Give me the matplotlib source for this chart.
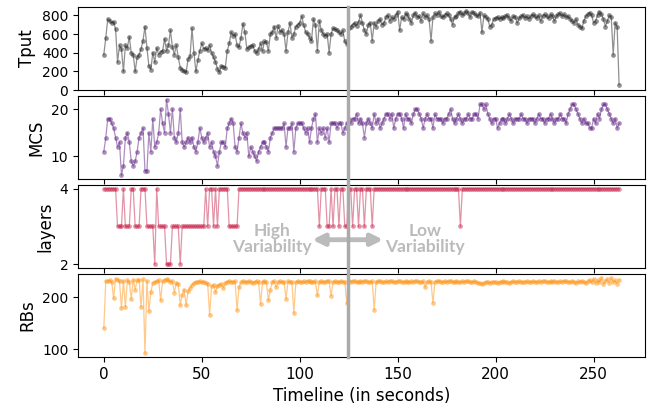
import numpy as np
import matplotlib
matplotlib.use('agg')
import matplotlib.pyplot as plt
from matplotlib.lines import Line2D
from matplotlib.transforms import blended_transform_factory

# one sample per second, 0 .. 263 s
tput = [380, 560, 760, 740, 720, 730, 650, 300, 480, 440,
        200, 480, 450, 570, 400, 380, 200, 350, 380, 440,
        530, 680, 450, 260, 220, 400, 300, 450, 380, 410,
        420, 550, 420, 480, 640, 460, 380, 480, 350, 240,
        220, 200, 190, 330, 360, 660, 400, 200, 320, 420,
        500, 440, 450, 430, 480, 400, 350, 300, 230, 190,
        260, 250, 240, 420, 500, 620, 580, 600, 480, 460,
        560, 710, 620, 440, 460, 470, 480, 420, 400, 440,
        500, 420, 520, 510, 420, 600, 620, 680, 560, 690,
        620, 640, 600, 420, 620, 720, 560, 600, 680, 700,
        720, 790, 700, 620, 600, 560, 530, 760, 700, 420,
        740, 640, 600, 580, 600, 400, 600, 660, 650, 640,
        620, 600, 640, 520, 490, 660, 680, 700, 720, 690,
        730, 800, 720, 640, 600, 700, 720, 530, 720, 680,
        740, 760, 700, 720, 780, 800, 740, 780, 760, 800,
        840, 640, 780, 760, 820, 800, 760, 720, 800, 830,
        780, 790, 740, 820, 780, 800, 760, 530, 780, 820,
        800, 840, 790, 780, 800, 820, 800, 760, 700, 780,
        790, 820, 840, 800, 820, 850, 820, 780, 840, 820,
        800, 790, 830, 620, 800, 780, 760, 680, 700, 760,
        770, 780, 760, 780, 770, 790, 800, 770, 740, 790,
        780, 720, 770, 790, 800, 770, 790, 760, 790, 810,
        790, 770, 800, 740, 790, 810, 790, 770, 810, 790,
        740, 790, 810, 820, 790, 810, 780, 790, 760, 740,
        720, 760, 700, 680, 660, 740, 790, 810, 830, 800,
        720, 740, 800, 840, 810, 760, 680, 740, 800, 780,
        380, 720, 680, 60]

mcs = [11, 14, 18, 18, 17, 16, 14, 12, 13, 6,
       8, 14, 15, 13, 9, 8, 9, 11, 14, 15,
       16, 7, 7, 15, 11, 18, 12, 13, 15, 20,
       17, 15, 22, 19, 15, 20, 14, 13, 15, 20,
       13, 12, 13, 14, 13, 14, 12, 11, 13, 16,
       14, 13, 14, 15, 12, 13, 11, 10, 8, 11,
       13, 13, 12, 16, 17, 18, 17, 12, 11, 14,
       17, 15, 14, 15, 10, 12, 11, 10, 9, 11,
       12, 13, 13, 12, 11, 14, 15, 16, 16, 16,
       16, 16, 17, 12, 16, 16, 17, 11, 16, 17,
       17, 17, 16, 15, 16, 13, 16, 18, 19, 13,
       16, 15, 16, 14, 16, 13, 17, 17, 17, 16,
       17, 17, 15, 16, 17, 18, 17, 18, 18, 19,
       17, 18, 17, 14, 17, 18, 17, 16, 19, 17,
       18, 16, 17, 18, 19, 19, 18, 19, 16, 18,
       19, 19, 18, 16, 19, 18, 18, 17, 19, 20,
       20, 19, 18, 16, 18, 19, 18, 18, 16, 19,
       18, 18, 18, 17, 18, 18, 19, 20, 18, 17,
       18, 19, 18, 17, 18, 18, 19, 18, 18, 19,
       19, 18, 21, 21, 20, 21, 19, 18, 17, 18,
       18, 16, 17, 18, 18, 17, 18, 19, 18, 17,
       18, 18, 18, 19, 18, 18, 17, 18, 18, 18,
       17, 18, 19, 18, 18, 17, 18, 18, 19, 18,
       17, 18, 18, 19, 18, 18, 17, 19, 20, 21,
       21, 20, 19, 18, 17, 18, 17, 17, 16, 16,
       18, 17, 19, 18, 20, 21, 21, 20, 19, 18,
       17, 18, 16, 17]

layers = [4, 4, 4, 4, 4, 4, 4, 3, 3, 3,
          4, 3, 3, 3, 4, 4, 3, 3, 3, 4,
          4, 4, 3, 3, 3, 3, 2, 4, 3, 3,
          3, 3, 2, 2, 2, 3, 3, 3, 3, 2,
          3, 3, 3, 3, 3, 3, 3, 3, 3, 3,
          3, 3, 4, 3, 4, 4, 3, 4, 3, 4,
          4, 4, 4, 4, 3, 3, 3, 3, 3, 4,
          4, 4, 4, 4, 4, 4, 4, 4, 4, 4,
          4, 4, 4, 4, 4, 4, 4, 4, 4, 4,
          4, 4, 4, 4, 4, 4, 4, 4, 4, 4,
          4, 4, 4, 4, 4, 4, 4, 4, 4, 4,
          3, 4, 4, 4, 3, 3, 4, 3, 4, 4,
          3, 4, 4, 3, 3, 4, 4, 3, 4, 4,
          3, 4, 4, 3, 4, 4, 4, 3, 4, 4,
          4, 4, 4, 4, 4, 4, 4, 4, 4, 4,
          4, 4, 4, 4, 4, 4, 4, 4, 4, 4,
          4, 4, 4, 4, 4, 4, 4, 4, 4, 4,
          4, 4, 4, 4, 4, 4, 4, 4, 4, 4,
          4, 4, 3, 4, 4, 4, 4, 4, 4, 4,
          4, 4, 4, 4, 4, 4, 4, 4, 4, 4,
          4, 4, 4, 4, 4, 4, 4, 4, 4, 4,
          4, 4, 4, 4, 4, 4, 4, 4, 4, 4,
          4, 4, 4, 4, 4, 4, 4, 4, 4, 4,
          4, 4, 4, 4, 4, 4, 4, 4, 4, 4,
          4, 4, 4, 4, 4, 4, 4, 4, 4, 4,
          4, 4, 4, 4, 4, 4, 4, 4, 4, 4,
          4, 4, 4, 4]

rbs = [141, 232, 231, 233, 230, 198, 236, 234, 231, 179,
       232, 181, 233, 230, 197, 234, 215, 233, 234, 181,
       235, 92, 232, 173, 210, 228, 230, 231, 233, 194,
       232, 234, 235, 233, 230, 231, 209, 228, 226, 185,
       205, 215, 185, 212, 218, 224, 228, 229, 230, 231,
       229, 230, 228, 226, 166, 222, 224, 210, 222, 224,
       226, 218, 228, 230, 231, 230, 229, 231, 175, 220,
       229, 231, 230, 229, 231, 230, 228, 230, 231, 229,
       187, 230, 231, 229, 194, 215, 230, 231, 220, 230,
       231, 229, 230, 197, 231, 230, 229, 170, 230, 231,
       230, 229, 231, 230, 232, 231, 229, 230, 231, 204,
       230, 231, 229, 230, 232, 231, 203, 230, 231, 230,
       229, 231, 230, 230, 189, 231, 230, 232, 231, 230,
       229, 231, 230, 232, 231, 230, 229, 231, 176, 230,
       231, 232, 230, 229, 231, 230, 232, 231, 229, 230,
       231, 232, 230, 229, 231, 230, 229, 231, 230, 232,
       231, 230, 229, 231, 220, 230, 231, 229, 189, 230,
       231, 232, 230, 229, 231, 230, 231, 232, 230, 229,
       231, 230, 229, 231, 230, 232, 231, 230, 229, 231,
       230, 228, 227, 225, 228, 229, 230, 228, 229, 230,
       229, 228, 230, 229, 231, 230, 229, 228, 230, 231,
       229, 230, 231, 230, 229, 230, 231, 230, 229, 231,
       230, 229, 231, 230, 231, 232, 230, 229, 231, 230,
       231, 230, 229, 231, 230, 232, 231, 230, 229, 231,
       230, 228, 231, 229, 232, 230, 228, 231, 234, 229,
       236, 227, 233, 230, 238, 226, 232, 235, 228, 237,
       229, 233, 226, 234]

t = np.arange(len(tput))

series = [tput, mcs, layers, rbs]
labels = ['Tput', 'MCS', 'layers', 'RBs']
colors = ['#222222', '#5c1f80', '#c8284f', '#ff9416']
change_at = 124.5

fig, axes = plt.subplots(4, 1, sharex=True, figsize=(6.56, 4.09), dpi=100)
fig.subplots_adjust(left=0.119, right=0.983, top=0.983, bottom=0.127, hspace=0.07)

for ax, y, lab, c in zip(axes, series, labels, colors):
    ax.plot(t, y, '-o', color=c, alpha=0.5, lw=0.9, ms=3.4, mew=0)
    ax.set_ylabel(lab, fontsize=12)
    ax.tick_params(axis='y', labelsize=10)

axes[0].set_ylim(bottom=0)
axes[0].set_yticks([0, 200, 400, 600, 800])
axes[1].set_yticks([10, 20])
axes[2].set_yticks([2, 4])
axes[3].set_yticks([100, 200])
axes[3].tick_params(axis='x', labelsize=11)
axes[3].set_xlabel('Timeline (in seconds)', fontsize=12)

# switch point line spanning all panels
trans = blended_transform_factory(axes[3].transData, fig.transFigure)
fig.add_artist(Line2D([change_at, change_at], [0.127, 0.983], transform=trans,
                      color='#aaaaaa', lw=2.5))

ax = axes[2]
ax.annotate('', xy=(105, 2.65), xytext=(144, 2.65),
            arrowprops=dict(arrowstyle='<|-|>', color='#bbbbbb', lw=3.5, mutation_scale=17))
ax.text(86, 2.68, 'High\nVariability', ha='center', va='center', fontsize=12.5,
        fontweight='bold', color='#bbbbbb', family='Lato', linespacing=1.0)
ax.text(164, 2.68, 'Low\nVariability', ha='center', va='center', fontsize=12.5,
        fontweight='bold', color='#bbbbbb', family='Lato', linespacing=1.0)

plt.savefig('out.png', dpi=100)
